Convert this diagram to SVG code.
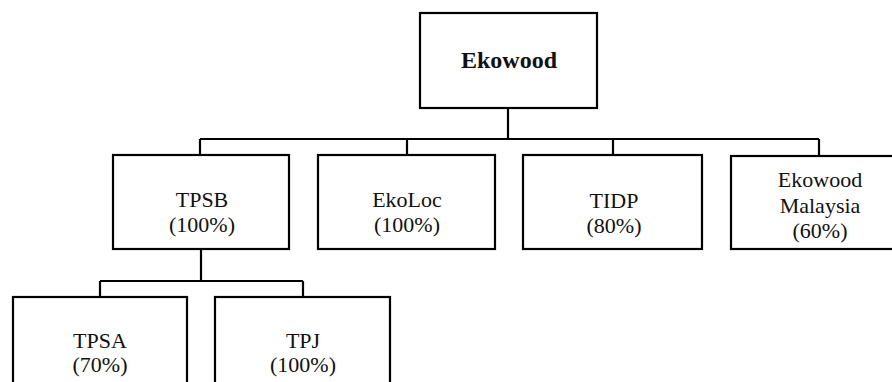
<svg xmlns="http://www.w3.org/2000/svg" width="892" height="382" viewBox="0 0 892 382">
<style>
.box{fill:#fff;stroke:#000;stroke-width:2.2}
.ln{fill:none;stroke:#000;stroke-width:2.2}
text{font-family:"Liberation Serif","Times New Roman",serif;font-size:22px;fill:#111;text-anchor:middle}
.b{font-weight:bold;font-size:24px}
</style>
<rect width="892" height="382" fill="#fff"/>
<g id="connectors">
<path class="ln" d="M508 108V139M200 139H819M200 139V155M407 139V155M613 139V155M819 139V156"/>
<path class="ln" d="M201 249V281M100 281H303M100 281V297M303 281V297"/>
</g>
<g id="ekowood"><rect class="box" x="420" y="13" width="177" height="95"/><text class="b" x="509" y="68">Ekowood</text></g>
<g id="tpsb"><rect class="box" x="113" y="155" width="176" height="94"/><text x="202" y="207">TPSB</text><text x="202" y="232">(100%)</text></g>
<g id="ekoloc"><rect class="box" x="318" y="155" width="177" height="94"/><text x="407" y="207">EkoLoc</text><text x="407" y="232">(100%)</text></g>
<g id="tidp"><rect class="box" x="523" y="155" width="179" height="94"/><text x="614" y="208">TIDP</text><text x="614" y="233">(80%)</text></g>
<g id="ekowood-malaysia"><rect class="box" x="731" y="156" width="180" height="93"/><text x="820" y="187">Ekowood</text><text x="820" y="213">Malaysia</text><text x="820" y="238">(60%)</text></g>
<g id="tpsa"><rect class="box" x="13" y="297" width="174" height="100"/><text x="100" y="348">TPSA</text><text x="100" y="372">(70%)</text></g>
<g id="tpj"><rect class="box" x="215" y="297" width="175" height="100"/><text x="303" y="348">TPJ</text><text x="303" y="372">(100%)</text></g>
</svg>
